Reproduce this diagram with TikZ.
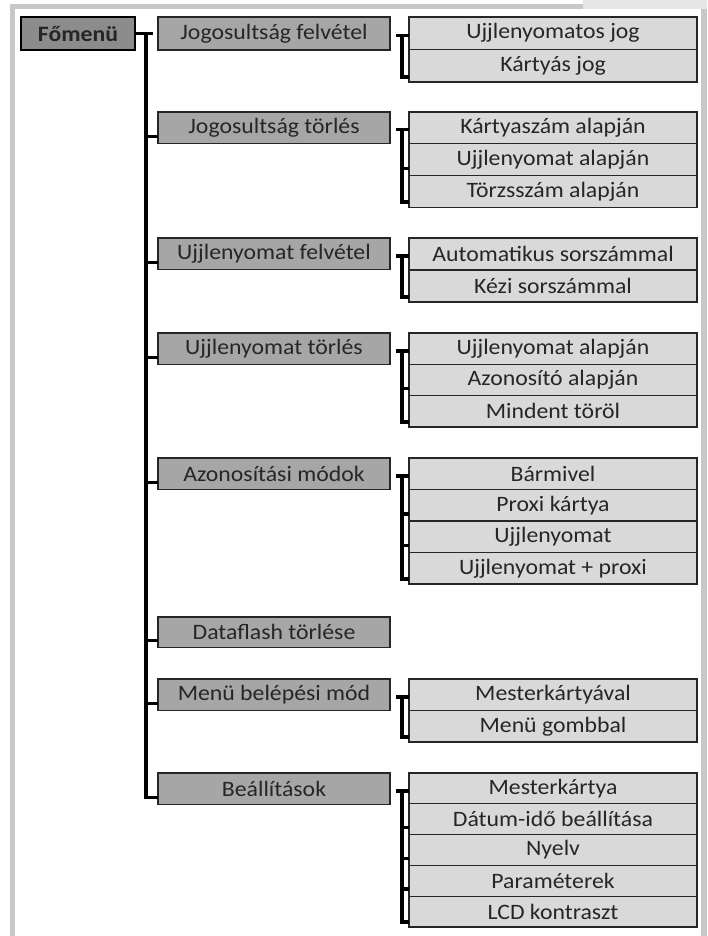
\documentclass[tikz,border=0pt]{standalone}
\usepackage{fontspec}
\setmainfont{Carlito}[FakeStretch=1.08]
\usetikzlibrary{calc}
\definecolor{cA}{HTML}{8C8C8C}
\definecolor{cB}{HTML}{A6A6A6}
\definecolor{cC}{HTML}{D9D9D9}
\definecolor{txt}{HTML}{262626}
\definecolor{frameg}{HTML}{C8C8C8}
\definecolor{framel}{HTML}{E6E6E6}
\begin{document}
\begin{tikzpicture}[x=1pt,y=-1pt,
  box/.style={draw=black!85, line width=1.2pt, rectangle, inner sep=0pt, outer sep=0pt,
    anchor=north west, text=txt, font=\fontsize{22}{22}\selectfont},
  lvlA/.style={box, fill=cA, draw=black, line width=2.2pt, minimum width=114pt, minimum height=33pt,
    font=\fontsize{22}{22}\selectfont\bfseries},
  lvlB/.style={box, fill=cB, minimum width=232pt, minimum height=31.5pt},
  lvlC/.style={box, fill=cC, minimum width=288pt},
  conn/.style={line width=3.5pt, black, line join=miter}]
\useasboundingbox (0,0) rectangle (707,936);
% frame
\fill[white] (0,0) rectangle (707,936);
\fill[framel] (583,0) rectangle (707,9);
\fill[frameg] (10,4) rectangle (583,9);
\fill[frameg] (10,4) rectangle (15,936);
\fill[frameg] (701,9) rectangle (707,936);

% root
\node[lvlA] (root) at (21,17) {Főmenü};

% level 2
\node[lvlB, minimum height=33pt] (b1) at (158,17) {Jogosultság felvétel};
\node[lvlB] (b2) at (158,112) {Jogosultság törlés};
\node[lvlB] (b3) at (158,238) {Ujjlenyomat felvétel};
\node[lvlB] (b4) at (158,333) {Ujjlenyomat törlés};
\node[lvlB] (b5) at (158,458) {Azonosítási módok};
\node[lvlB, minimum height=30.5pt] (b6) at (158,617) {Dataflash törlése};
\node[lvlB] (b7) at (158,679) {Menü belépési mód};
\node[lvlB] (b8) at (158,773) {Beállítások};

% level 3
\foreach \t [count=\i from 0] in {Ujjlenyomatos jog, Kártyás jog}
  \node[lvlC, minimum height=32.5pt] (g1c\i) at (409,17+\i*32.5) {\t};
\foreach \t [count=\i from 0] in {Kártyaszám alapján, Ujjlenyomat alapján, Törzsszám alapján}
  \node[lvlC, minimum height=31.7pt] (g2c\i) at (409,112+\i*31.7) {\t};
\foreach \t [count=\i from 0] in {Automatikus sorszámmal, Kézi sorszámmal}
  \node[lvlC, minimum height=32pt] (g3c\i) at (409,238+\i*32) {\t};
\foreach \t [count=\i from 0] in {Ujjlenyomat alapján, Azonosító alapján, Mindent töröl}
  \node[lvlC, minimum height=31.3pt] (g4c\i) at (409,333+\i*31.3) {\t};
\foreach \t [count=\i from 0] in {Bármivel, Proxi kártya, Ujjlenyomat, Ujjlenyomat + proxi}
  \node[lvlC, minimum height=31.5pt] (g5c\i) at (409,458+\i*31.5) {\t};
\foreach \t [count=\i from 0] in {Mesterkártyával, Menü gombbal}
  \node[lvlC, minimum height=31.5pt] (g7c\i) at (409,679+\i*31.5) {\t};
\foreach \t [count=\i from 0] in {Mesterkártya, Dátum-idő beállítása, Nyelv, Paraméterek, LCD kontraszt}
  \node[lvlC, minimum height=30.8pt] (g8c\i) at (409,773+\i*30.8) {\t};

% main tree connector
\coordinate (m) at ([xshift=11pt]root.east);
\draw[conn] (root.east) -- ([xshift=18pt]root.east);
\foreach \k in {2,...,8}
  \coordinate (q\k) at ([yshift=7pt]b\k.south west);
\draw[conn] (m) |- (q8);
\foreach \k in {2,...,7}
  \draw[conn] (m |- q\k) -- (q\k);

% sub brackets
\foreach \g/\n in {1/1, 2/2, 3/1, 4/2, 5/3, 7/1, 8/4}{
  \coordinate (v\g) at ([xshift=12pt,yshift=-2pt]b\g.east);
  \draw[conn] ([xshift=-6pt]v\g) -- (v\g -| g\g c0.west);
  \coordinate (e\g) at ([yshift=5pt]g\g c\n.south west);
  \draw[conn] (v\g) |- (e\g);
  \ifnum\n>1
    \foreach \j in {1,...,\numexpr\n-1\relax}{
      \coordinate (w) at ([yshift=7pt]g\g c\j.south west);
      \draw[conn] (v\g |- w) -- (w);
    }
  \fi
}
\end{tikzpicture}
\end{document}
